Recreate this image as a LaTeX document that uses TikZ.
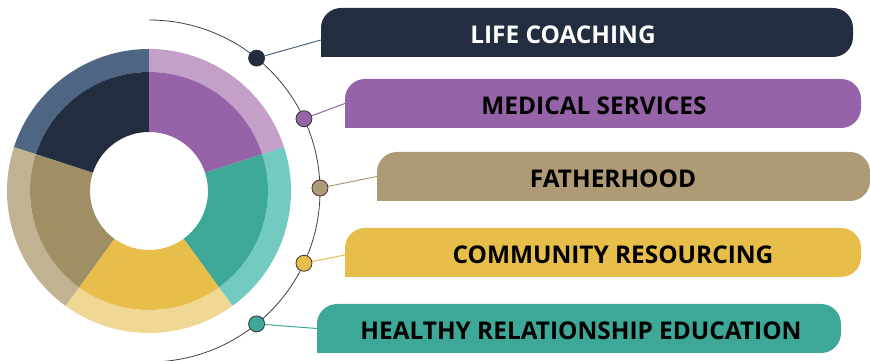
\documentclass[tikz,border=0pt]{standalone}
\usepackage{fontspec}
\setmainfont{Open Sans}
\usepackage{tikz}
\usetikzlibrary{calc,positioning}

\definecolor{navyD}{HTML}{222E3F}
\definecolor{navyL}{HTML}{4E6683}
\definecolor{purpD}{HTML}{9663A8}
\definecolor{purpL}{HTML}{C4A0C9}
\definecolor{tealD}{HTML}{3DA897}
\definecolor{tealL}{HTML}{72CAC0}
\definecolor{yellD}{HTML}{E8BE4B}
\definecolor{yellL}{HTML}{F1D794}
\definecolor{khakD}{HTML}{A08F65}
\definecolor{khakL}{HTML}{C1B291}
\definecolor{khakB}{HTML}{AE9B76}

\begin{document}
\begin{tikzpicture}[x=1pt,y=1pt,
    boxstyle/.style={rounded corners=20pt,minimum height=49pt,inner sep=0pt},
    labelstyle/.style={font=\bfseries\fontsize{24.4}{24.4}\selectfont,inner sep=0pt},
    dotstyle/.style={circle,draw=black!80,line width=0.8pt,minimum size=16pt,inner sep=0pt},
    linkstyle/.style={line width=1pt}]

    \useasboundingbox (0,0) rectangle (870,361);

    % donut
    \begin{scope}[shift={(149,170)}]
    \foreach \a/\b/\dk/\lt in {90/162/navyD/navyL,18/90/purpD/purpL,-54/18/tealD/tealL,-126/-54/yellD/yellL,162/234/khakD/khakL} {
        \fill[\lt] (\a:142) arc[start angle=\a,end angle=\b,radius=142] -- (\b:119) arc[start angle=\b,end angle=\a,radius=119] -- cycle;
        \fill[\dk] (\a:119) arc[start angle=\a,end angle=\b,radius=119] -- (\b:59) arc[start angle=\b,end angle=\a,radius=59] -- cycle;
    }
    \draw[line width=0.8pt,black!75] (90:171) arc[start angle=90,end angle=-90,radius=171];
    \end{scope}

    % boxes
    \node[boxstyle,fill=navyD,minimum width=532pt] (b1) at (587,328.5) {};
    \node[boxstyle,fill=purpD,minimum width=516pt] (b2) at (603,257.5) {};
    \node[boxstyle,fill=khakB,minimum width=493pt] (b3) at (623.5,184.5) {};
    \node[boxstyle,fill=yellD,minimum width=516pt] (b4) at (603,108.5) {};
    \node[boxstyle,fill=tealD,minimum width=524pt] (b5) at (579,32.5) {};
    \fill[navyD] (b1.south west) rectangle ++(25,25);
    \fill[purpD] (b2.south west) rectangle ++(25,25);
    \fill[khakB] (b3.south west) rectangle ++(25,25);
    \fill[yellD] (b4.south west) rectangle ++(25,25);
    \fill[tealD] (b5.south west) rectangle ++(25,25);

    \node[labelstyle,text=white] (t1) at (563,326) {LIFE COACHING};
    \node[labelstyle] (t2) at (594,255) {MEDICAL SERVICES};
    \node[labelstyle] (t3) at (613,182) {FATHERHOOD};
    \node[labelstyle] (t4) at (613,106) {COMMUNITY RESOURCING};
    \node[labelstyle] (t5) at (581,30) {HEALTHY RELATIONSHIP EDUCATION};

    % dots on the arc
    \node[dotstyle,fill=navyD] (d1) at ($(149,170)+(51:171)$) {};
    \node[dotstyle,fill=purpD] (d2) at ($(149,170)+(25:171)$) {};
    \node[dotstyle,fill=khakB] (d3) at ($(149,170)+(1:171)$) {};
    \node[dotstyle,fill=yellD] (d4) at ($(149,170)+(-25:171)$) {};
    \node[dotstyle,fill=tealD] (d5) at ($(149,170)+(-51:171)$) {};

    \draw[linkstyle,navyL] (d1) -- ([yshift=-7.5]b1.west);
    \draw[linkstyle,purpD] (d2) -- (b2.west);
    \draw[linkstyle,khakB] (d3) -- (b3.west);
    \draw[linkstyle,yellD] (d4) -- ([yshift=-2.5]b4.west);
    \draw[linkstyle,tealD] (d5) -- (b5.west);

\end{tikzpicture}
\end{document}
